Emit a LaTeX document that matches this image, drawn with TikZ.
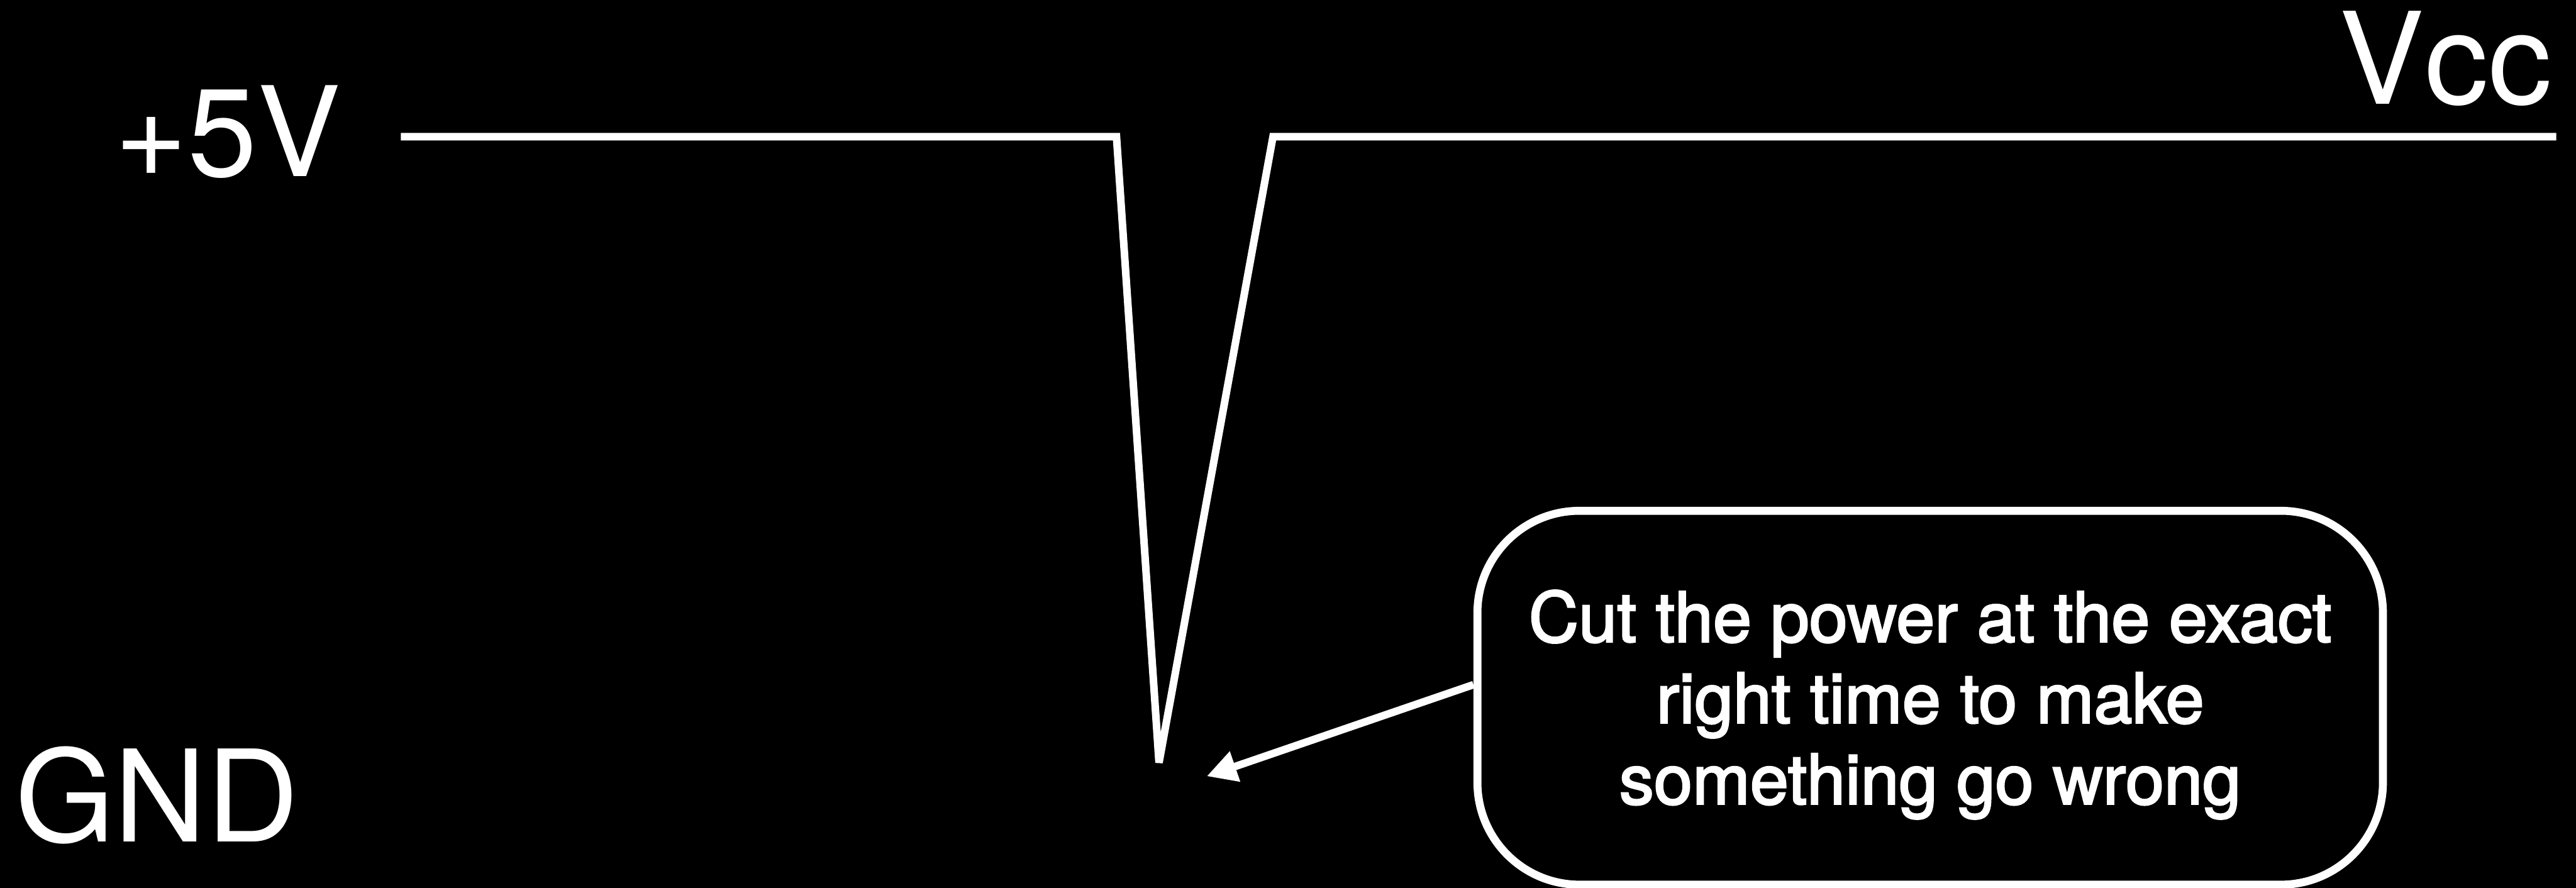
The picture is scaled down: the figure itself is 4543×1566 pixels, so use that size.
\documentclass[tikz,border=0pt]{standalone}
\usepackage{fontspec}
\setmainfont{TeX Gyre Heros}
\newfontfamily\msgfont{TeX Gyre Heros}[FakeBold=2.5]
\usetikzlibrary{arrows.meta}
\begin{document}
\begin{tikzpicture}[x=0.01cm, y=-0.01cm,
  wire/.style={white, line width=0.133cm, line join=miter, miter limit=4},
  biglbl/.style={text=white, inner sep=0pt, anchor=base west, font=\fontsize{64pt}{77pt}\selectfont},
  boxstyle/.style={draw=white, line width=0.14cm, rounded corners=1.8cm, minimum width=15.96cm, minimum height=6.59cm, inner sep=0pt},
  msg/.style={text=white, anchor=base, inner sep=0pt, font=\msgfont\fontsize{34.7pt}{40.7pt}\selectfont},
  arrowline/.style={white, line width=0.133cm, -{Triangle[length=0.53cm,width=0.53cm]}}]
\fill[black] (0,0) rectangle (4543,1566);
\useasboundingbox (0,0) rectangle (4543,1566);
% labels
\node[biglbl, font=\fontsize{62.6pt}{75pt}\selectfont] (p5) at (202,311) {+5V};
\node[biglbl] (vcc) at (4125,183) {Vcc};
\node[biglbl] (gnd) at (26,1484) {GND};
% supply line with glitch
\coordinate (w0) at (707,241);
\coordinate (w1) at (1969,241);
\coordinate (w2) at (2044,1345);
\coordinate (w3) at (2245,241);
\coordinate (w4) at (4508,241);
\draw[wire] (w0) -- (w1) -- (w2) -- (w3) -- (w4);
% callout box
\node[boxstyle] (box) at (3404,1230.5) {};
\node[msg] (m1) at (3404,1132) {Cut the power at the exact};
\node[msg] (m2) at (3404,1275) {right time to make};
\node[msg] (m3) at (3404,1418) {something go wrong};
% arrow
\coordinate (tip) at (2128,1369);
\draw[arrowline] ([yshift=0.23cm]box.west) -- (tip);
\end{tikzpicture}
\end{document}
